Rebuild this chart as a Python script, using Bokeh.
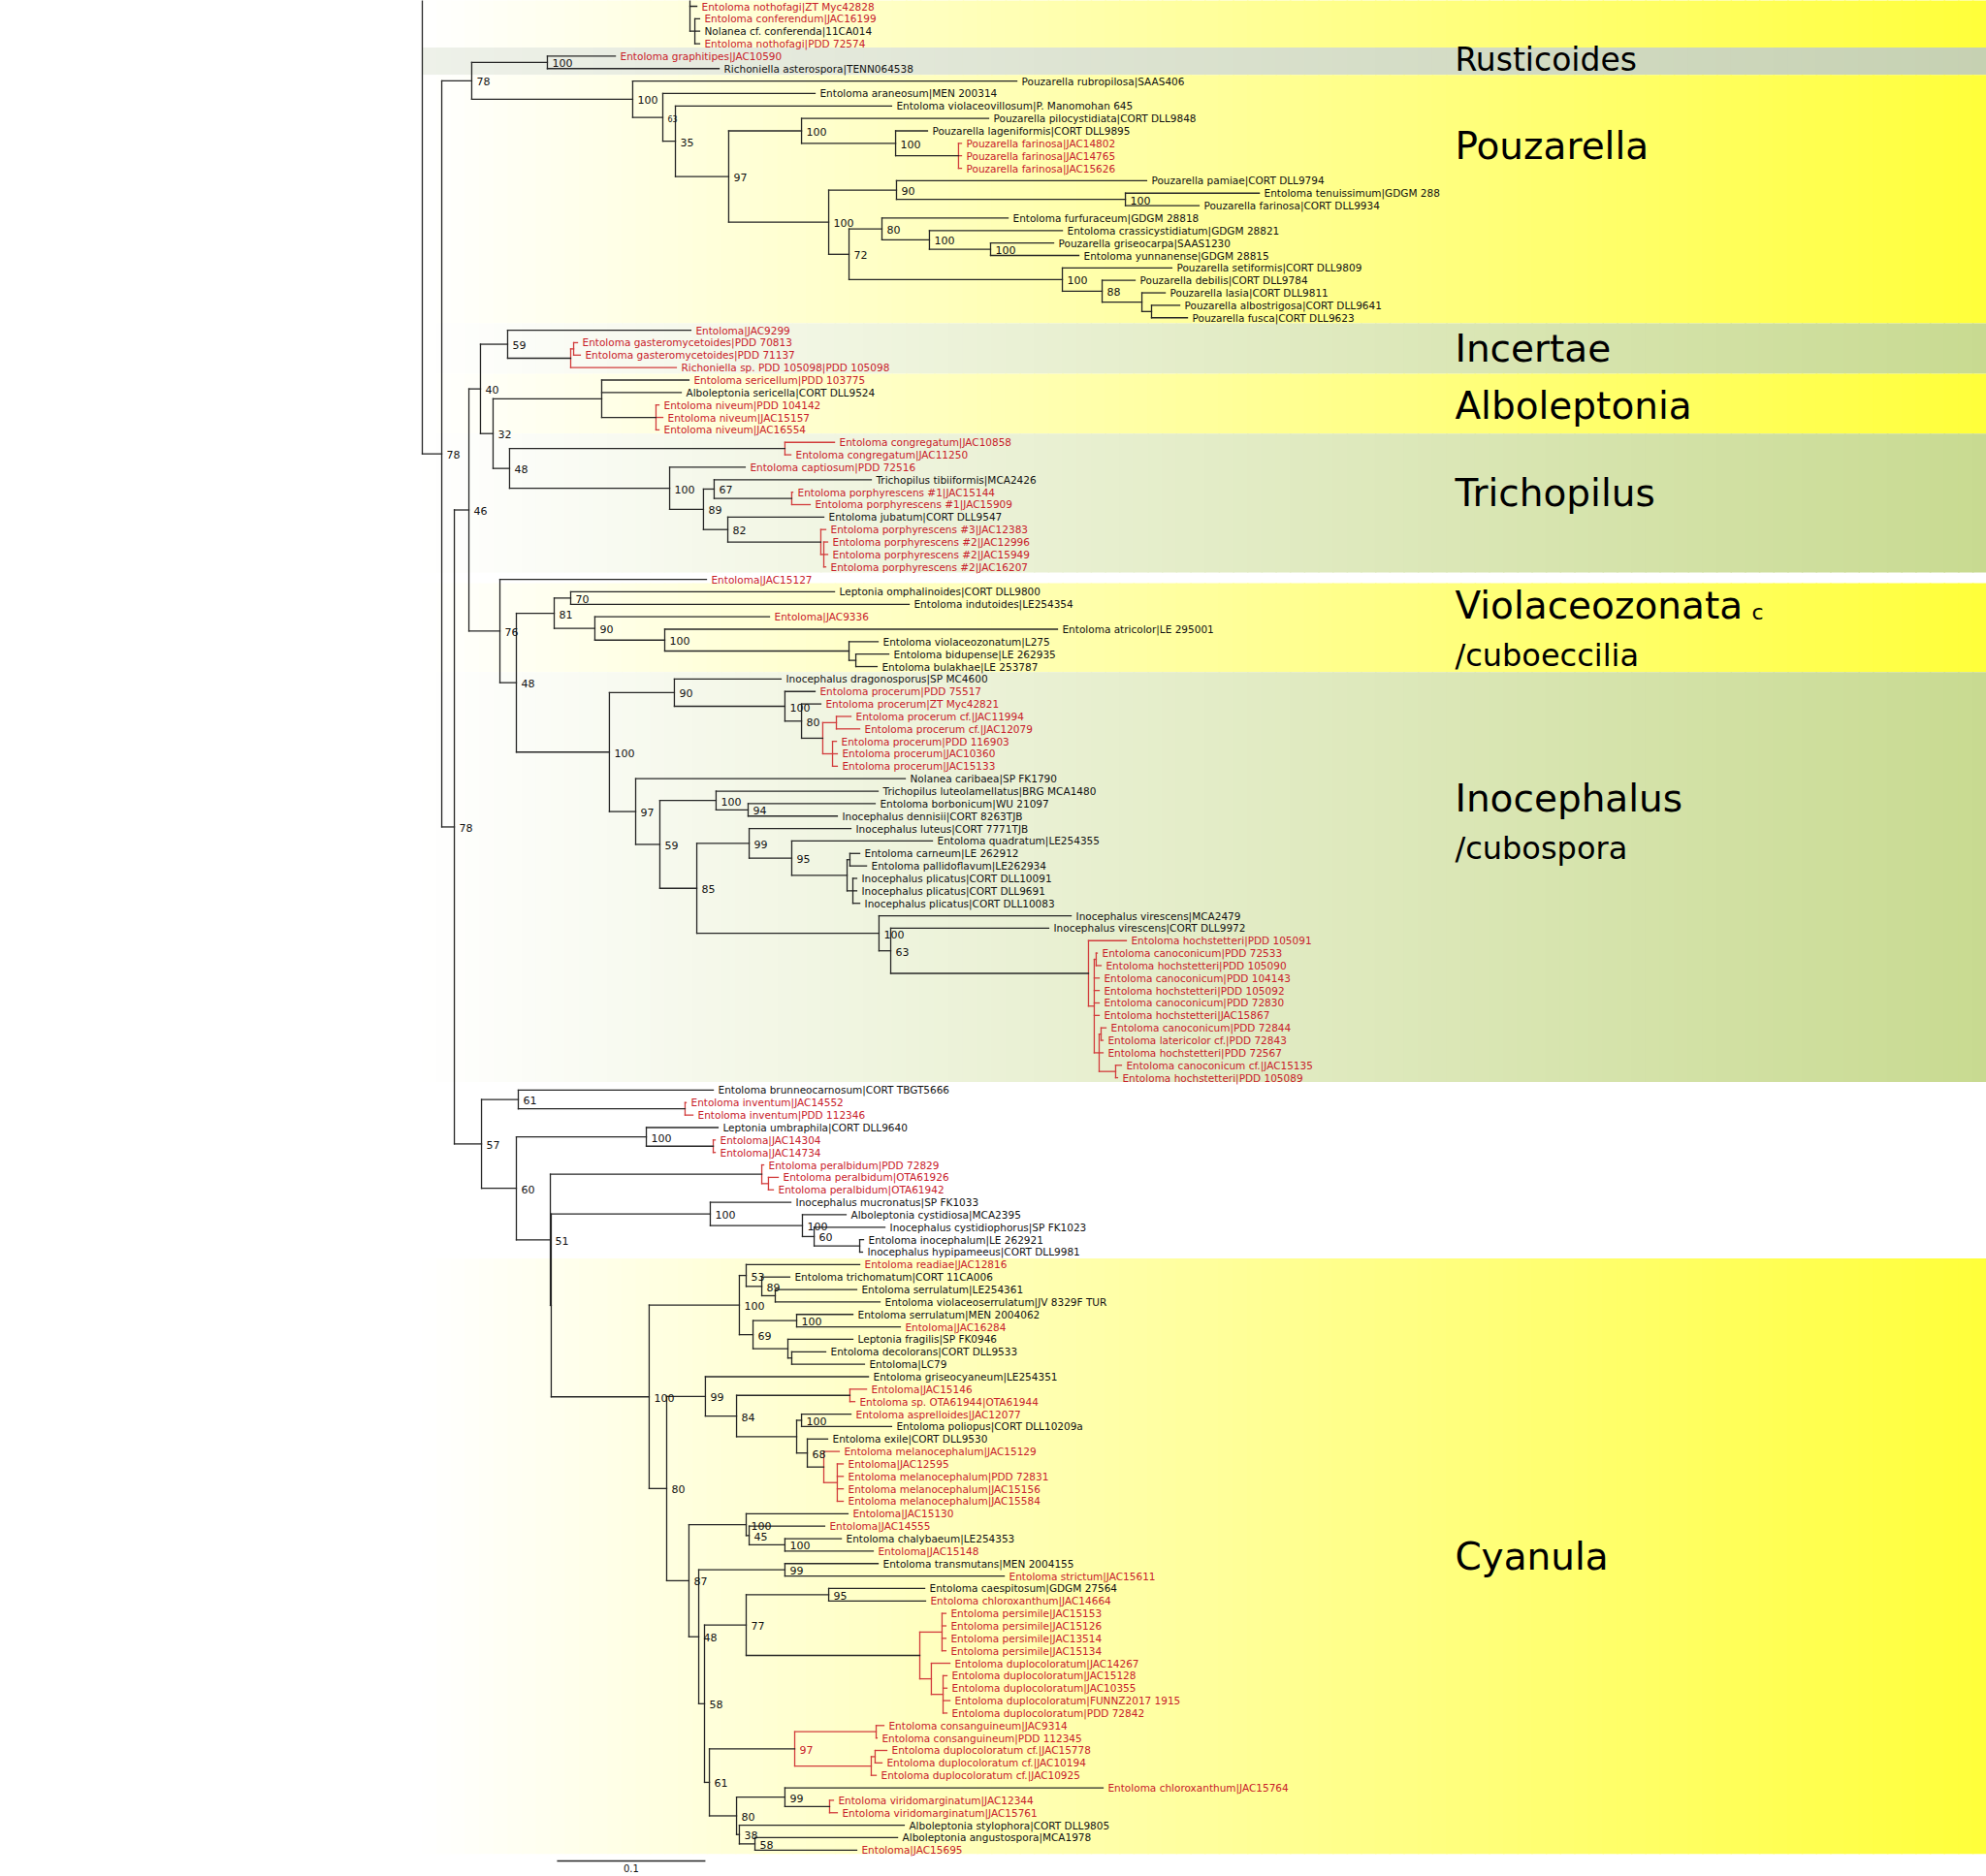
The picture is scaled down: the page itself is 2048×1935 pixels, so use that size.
from bokeh.plotting import figure
from bokeh.models import Range1d, ColumnDataSource
from bokeh.embed import file_html
from bokeh.resources import INLINE
from bokeh.core.properties import value

# ---------------- data ----------------
# tips, top to bottom (y = row index); depth in 0.001 substitutions/site
leaf_names = [
    "Entoloma nothofagi|ZT Myc42828", "Entoloma conferendum|JAC16199", "Nolanea cf. conferenda|11CA014",
    "Entoloma nothofagi|PDD 72574", "Entoloma graphitipes|JAC10590", "Richoniella asterospora|TENN064538",
    "Pouzarella rubropilosa|SAAS406", "Entoloma araneosum|MEN 200314", "Entoloma violaceovillosum|P. Manomohan 645",
    "Pouzarella pilocystidiata|CORT DLL9848",
    "Pouzarella lageniformis|CORT DLL9895", "Pouzarella farinosa|JAC14802", "Pouzarella farinosa|JAC14765",
    "Pouzarella farinosa|JAC15626", "Pouzarella pamiae|CORT DLL9794", "Entoloma tenuissimum|GDGM 288",
    "Pouzarella farinosa|CORT DLL9934", "Entoloma furfuraceum|GDGM 28818", "Entoloma crassicystidiatum|GDGM 28821",
    "Pouzarella griseocarpa|SAAS1230",
    "Entoloma yunnanense|GDGM 28815", "Pouzarella setiformis|CORT DLL9809", "Pouzarella debilis|CORT DLL9784",
    "Pouzarella lasia|CORT DLL9811", "Pouzarella albostrigosa|CORT DLL9641", "Pouzarella fusca|CORT DLL9623",
    "Entoloma|JAC9299", "Entoloma gasteromycetoides|PDD 70813", "Entoloma gasteromycetoides|PDD 71137",
    "Richoniella sp. PDD 105098|PDD 105098",
    "Entoloma sericellum|PDD 103775", "Alboleptonia sericella|CORT DLL9524", "Entoloma niveum|PDD 104142",
    "Entoloma niveum|JAC15157", "Entoloma niveum|JAC16554", "Entoloma congregatum|JAC10858",
    "Entoloma congregatum|JAC11250", "Entoloma captiosum|PDD 72516", "Trichopilus tibiiformis|MCA2426",
    "Entoloma porphyrescens #1|JAC15144",
    "Entoloma porphyrescens #1|JAC15909", "Entoloma jubatum|CORT DLL9547", "Entoloma porphyrescens #3|JAC12383",
    "Entoloma porphyrescens #2|JAC12996", "Entoloma porphyrescens #2|JAC15949", "Entoloma porphyrescens #2|JAC16207",
    "Entoloma|JAC15127", "Leptonia omphalinoides|CORT DLL9800", "Entoloma indutoides|LE254354",
    "Entoloma|JAC9336",
    "Entoloma atricolor|LE 295001", "Entoloma violaceozonatum|L275", "Entoloma bidupense|LE 262935",
    "Entoloma bulakhae|LE 253787", "Inocephalus dragonosporus|SP MC4600", "Entoloma procerum|PDD 75517",
    "Entoloma procerum|ZT Myc42821", "Entoloma procerum cf.|JAC11994", "Entoloma procerum cf.|JAC12079",
    "Entoloma procerum|PDD 116903",
    "Entoloma procerum|JAC10360", "Entoloma procerum|JAC15133", "Nolanea caribaea|SP FK1790",
    "Trichopilus luteolamellatus|BRG MCA1480", "Entoloma borbonicum|WU 21097", "Inocephalus dennisii|CORT 8263TJB",
    "Inocephalus luteus|CORT 7771TJB", "Entoloma quadratum|LE254355", "Entoloma carneum|LE 262912",
    "Entoloma pallidoflavum|LE262934",
    "Inocephalus plicatus|CORT DLL10091", "Inocephalus plicatus|CORT DLL9691", "Inocephalus plicatus|CORT DLL10083",
    "Inocephalus virescens|MCA2479", "Inocephalus virescens|CORT DLL9972", "Entoloma hochstetteri|PDD 105091",
    "Entoloma canoconicum|PDD 72533", "Entoloma hochstetteri|PDD 105090", "Entoloma canoconicum|PDD 104143",
    "Entoloma hochstetteri|PDD 105092",
    "Entoloma canoconicum|PDD 72830", "Entoloma hochstetteri|JAC15867", "Entoloma canoconicum|PDD 72844",
    "Entoloma latericolor cf.|PDD 72843", "Entoloma hochstetteri|PDD 72567", "Entoloma canoconicum cf.|JAC15135",
    "Entoloma hochstetteri|PDD 105089", "Entoloma brunneocarnosum|CORT TBGT5666", "Entoloma inventum|JAC14552",
    "Entoloma inventum|PDD 112346",
    "Leptonia umbraphila|CORT DLL9640", "Entoloma|JAC14304", "Entoloma|JAC14734",
    "Entoloma peralbidum|PDD 72829", "Entoloma peralbidum|OTA61926", "Entoloma peralbidum|OTA61942",
    "Inocephalus mucronatus|SP FK1033", "Alboleptonia cystidiosa|MCA2395", "Inocephalus cystidiophorus|SP FK1023",
    "Entoloma inocephalum|LE 262921",
    "Inocephalus hypipameeus|CORT DLL9981", "Entoloma readiae|JAC12816", "Entoloma trichomatum|CORT 11CA006",
    "Entoloma serrulatum|LE254361", "Entoloma violaceoserrulatum|JV 8329F TUR", "Entoloma serrulatum|MEN 2004062",
    "Entoloma|JAC16284", "Leptonia fragilis|SP FK0946", "Entoloma decolorans|CORT DLL9533",
    "Entoloma|LC79",
    "Entoloma griseocyaneum|LE254351", "Entoloma|JAC15146", "Entoloma sp. OTA61944|OTA61944",
    "Entoloma asprelloides|JAC12077", "Entoloma poliopus|CORT DLL10209a", "Entoloma exile|CORT DLL9530",
    "Entoloma melanocephalum|JAC15129", "Entoloma|JAC12595", "Entoloma melanocephalum|PDD 72831",
    "Entoloma melanocephalum|JAC15156",
    "Entoloma melanocephalum|JAC15584", "Entoloma|JAC15130", "Entoloma|JAC14555",
    "Entoloma chalybaeum|LE254353", "Entoloma|JAC15148", "Entoloma transmutans|MEN 2004155",
    "Entoloma strictum|JAC15611", "Entoloma caespitosum|GDGM 27564", "Entoloma chloroxanthum|JAC14664",
    "Entoloma persimile|JAC15153",
    "Entoloma persimile|JAC15126", "Entoloma persimile|JAC13514", "Entoloma persimile|JAC15134",
    "Entoloma duplocoloratum|JAC14267", "Entoloma duplocoloratum|JAC15128", "Entoloma duplocoloratum|JAC10355",
    "Entoloma duplocoloratum|FUNNZ2017 1915", "Entoloma duplocoloratum|PDD 72842", "Entoloma consanguineum|JAC9314",
    "Entoloma consanguineum|PDD 112345",
    "Entoloma duplocoloratum cf.|JAC15778", "Entoloma duplocoloratum cf.|JAC10194", "Entoloma duplocoloratum cf.|JAC10925",
    "Entoloma chloroxanthum|JAC15764", "Entoloma viridomarginatum|JAC12344", "Entoloma viridomarginatum|JAC15761",
    "Alboleptonia stylophora|CORT DLL9805", "Alboleptonia angustospora|MCA1978", "Entoloma|JAC15695",
]

leaf_red = [
    1, 1, 0, 1, 1, 0, 0, 0, 0, 0,
    0, 1, 1, 1, 0, 0, 0, 0, 0, 0,
    0, 0, 0, 0, 0, 0, 1, 1, 1, 1,
    1, 0, 1, 1, 1, 1, 1, 1, 0, 1,
    1, 0, 1, 1, 1, 1, 1, 0, 0, 1,
    0, 0, 0, 0, 0, 1, 1, 1, 1, 1,
    1, 1, 0, 0, 0, 0, 0, 0, 0, 0,
    0, 0, 0, 0, 0, 1, 1, 1, 1, 1,
    1, 1, 1, 1, 1, 1, 1, 0, 1, 1,
    0, 1, 1, 1, 1, 1, 0, 0, 0, 0,
    0, 1, 0, 0, 0, 0, 1, 0, 0, 0,
    0, 1, 1, 1, 0, 0, 1, 1, 1, 1,
    1, 1, 1, 0, 1, 0, 1, 0, 1, 1,
    1, 1, 1, 1, 1, 1, 1, 1, 1, 1,
    1, 1, 1, 1, 1, 1, 0, 0, 1,
]

leaf_depth = [
    185.0, 186.9, 186.9, 186.9, 130.1, 200.0, 400.7, 264.7, 316.3, 381.7,
    340.5, 363.4, 363.4, 363.4, 488.2, 564.1, 523.5, 394.8, 431.4, 425.5,
    442.5, 505.2, 480.4, 500.7, 510.5, 515.7, 181.0, 104.6, 106.5, 171.2,
    179.7, 174.5, 159.5, 162.1, 159.5, 277.8, 248.4, 217.6, 302.6, 249.7,
    261.4, 270.6, 271.9, 273.2, 273.2, 271.9, 191.5, 277.8, 328.1, 234.0,
    428.1, 307.2, 314.4, 306.5, 241.8, 264.7, 268.6, 288.9, 294.8, 279.1,
    279.7, 279.7, 325.5, 307.2, 305.2, 279.7, 288.9, 343.8, 294.8, 299.4,
    292.8, 292.8, 294.8, 437.3, 422.2, 474.5, 454.9, 457.5, 456.2, 456.2,
    456.2, 456.2, 460.8, 458.8, 458.8, 471.2, 468.6, 196.1, 177.8, 182.4,
    199.3, 197.4, 197.4, 230.1, 239.9, 236.6, 248.4, 285.6, 311.8, 297.4,
    296.7, 294.8, 247.7, 292.8, 308.5, 290.2, 322.2, 290.2, 271.9, 298.0,
    300.7, 299.4, 291.5, 288.9, 316.3, 273.2, 281.0, 283.7, 283.7, 283.7,
    283.7, 286.9, 271.2, 282.4, 303.9, 307.2, 392.2, 338.6, 339.2, 352.9,
    352.9, 352.9, 352.9, 355.6, 353.6, 353.6, 355.6, 353.6, 311.1, 306.5,
    313.1, 309.8, 305.9, 458.8, 277.1, 279.7, 324.8, 320.3, 292.8,
]

leaf_parent = [
    "T1", "T2", "T2", "T2", "RUS", "RUS", "PZ", "P63", "P35", "P100a",
    "P100c", "F", "F", "F", "P90", "P100d", "P100d", "P80", "P100f", "P100g",
    "P100g", "P100e", "P88", "PQ", "PR", "PR", "N59", "GP", "GP", "G",
    "AL", "AL", "NV", "NV", "NV", "CG", "CG", "T100", "T67", "P1",
    "P1", "T82", "PP", "PP2", "PP2", "PP2", "N76", "N70", "N70", "N90",
    "N100v", "VZ", "VZ2", "VZ2", "N90i", "PR100", "PR80", "PCF", "PCF", "PTR",
    "PTR", "PTR", "N97", "N100t", "N94", "N94", "N99", "N95", "CPa", "CPa",
    "PL", "PL", "PL", "NV100", "N63", "HC", "HC3", "HC3", "HC2", "HC2",
    "HC2", "HC2", "HC5", "HC5", "HC4", "HC6", "HC6", "N61a", "IV", "IV",
    "N100u", "JJ", "JJ", "PA", "PA2", "PA2", "N100m", "N100cy", "N60c", "EI",
    "EI", "N53", "N89", "N89b", "N89b", "N100s", "N100s", "LD", "LD2", "LD2",
    "N99c", "J146", "J146", "N100pp", "N100pp", "N68", "MC", "MC2", "MC2", "MC2",
    "MC2", "N100j", "N45", "N100k", "N100k", "N99t", "N99t", "N95c", "N95c", "PS",
    "PS", "PS", "PS", "DU", "DU2", "DU2", "DU2", "DU2", "CS", "CS",
    "DC2", "DC2", "DC", "N99v", "VM", "VM", "N38", "N58b", "N58b",
]

# internal nodes
node_names = [
    "R", "T1", "T2", "B", "A", "RUS", "PZ", "P63", "P35", "P97", "P100a", "P100c", "F",
    "P100b", "P90", "P100d", "P72", "P80", "P100f", "P100g", "P100e", "P88", "PQ", "PR",
    "C", "D", "N40", "N59", "G", "GP", "N32", "AL", "NV", "N48", "CG", "T100", "T89", "T67", "P1", "T82", "PP", "PP2",
    "N76", "N48b", "N81", "N70", "N90", "N100v", "VZ", "VZ2", "N100i", "N90i", "PR100", "PR80", "PRc", "PCF", "PTR",
    "N97", "N59i", "N100t", "N94", "N85", "N99", "N95", "CP", "CPa", "PL", "NV100", "N63",
    "HC", "HC2", "HC3", "HC4", "HC5", "HC6",
    "N57", "N61a", "IV", "N60", "N100u", "JJ", "N51", "PA", "PA2", "X", "N100m", "N100cy", "N60c", "EI",
    "N100c", "N100r", "N53", "N89", "N89b", "N69", "N100s", "LD", "LD2",
    "N80c", "N99c", "N84", "J146", "N100p0", "N100pp", "N68", "MC", "MC2",
    "N87", "N100j", "N45", "N100k", "N48c", "N99t", "N58", "N77", "N95c", "PD", "PS", "DU", "DU2",
    "N61", "N97r", "CS", "DC", "DC2", "N80d", "N99v", "VM", "N38", "N58b",
]
node_parent = [
    None, "R", "T1", "R", "B", "A", "A", "PZ", "P63", "P35", "P97", "P100a", "P100c",
    "P97", "P100b", "P90", "P100b", "P72", "P80", "P100f", "P72", "P100e", "P88", "PQ",
    "B", "C", "D", "N40", "N59", "G", "N40", "N32", "AL", "N32", "N48", "N48", "T100", "T89", "T67", "T89", "T82", "PP",
    "D", "N76", "N48b", "N81", "N81", "N90", "N100v", "VZ", "N48b", "N100i", "N90i", "PR100", "PR80", "PRc", "PRc",
    "N100i", "N97", "N59i", "N100t", "N59i", "N85", "N99", "N95", "CP", "CP", "N85", "NV100",
    "N63", "HC", "HC2", "HC2", "HC4", "HC4",
    "C", "N57", "N61a", "N57", "N60", "N100u", "N60", "N51", "PA", "N51", "X", "N100m", "N100cy", "N60c",
    "X", "N100c", "N100r", "N53", "N89", "N100r", "N69", "N69", "LD",
    "N100c", "N80c", "N99c", "N84", "N84", "N100p0", "N100p0", "N68", "MC",
    "N80c", "N87", "N100j", "N45", "N87", "N48c", "N48c", "N58", "N77", "N77", "PD", "PD", "DU",
    "N58", "N61", "N97r", "N97r", "DC", "N61", "N80d", "N99v", "N80d", "N38",
]
node_depth = [
    0.0, 180.4, 183.7, 13.1, 33.3, 84.3, 141.8, 162.1, 170.6, 206.5, 255.6, 319.0, 361.4,
    273.9, 319.6, 473.9, 287.6, 309.8, 341.8, 383.0, 431.4, 458.2, 485.0, 491.5,
    21.6, 31.4, 39.2, 57.5, 100.0, 102.0, 47.7, 120.9, 157.5, 58.8, 244.4, 166.7, 189.5, 196.7, 249.0, 205.9, 268.6, 270.6,
    52.3, 63.4, 88.9, 100.0, 116.3, 163.4, 287.6, 292.2, 126.1, 169.9, 244.4, 255.6, 269.9, 279.1, 276.5,
    143.8, 160.1, 198.0, 219.6, 185.0, 220.3, 249.0, 286.3, 288.2, 290.2, 307.8, 315.7,
    449.0, 452.9, 454.2, 456.2, 457.5, 467.3,
    39.9, 64.7, 177.1, 63.4, 151.0, 196.1, 86.3, 228.8, 233.3, 86.9, 194.1, 256.2, 264.1, 294.8,
    152.9, 213.7, 218.3, 228.8, 237.9, 222.9, 252.3, 246.4, 249.0,
    164.7, 190.8, 211.8, 288.2, 252.3, 255.6, 259.5, 270.6, 279.7,
    179.7, 218.3, 220.3, 244.4, 186.3, 244.4, 190.2, 218.3, 273.9, 335.3, 350.3, 343.1, 351.0,
    193.5, 251.0, 305.9, 302.6, 305.2, 211.8, 244.4, 274.5, 213.7, 224.2,
]
node_support = [
    "", "", "", "78", "78", "100", "100", "63", "35", "97", "100", "100", "",
    "100", "90", "100", "72", "80", "100", "100", "100", "88", "", "",
    "78", "46", "40", "59", "", "", "32", "", "", "48", "", "100", "89", "67", "", "82", "", "",
    "76", "48", "81", "70", "90", "100", "", "", "100", "90", "100", "80", "", "", "",
    "97", "59", "100", "94", "85", "99", "95", "", "", "", "100", "63",
    "", "", "", "", "", "",
    "57", "61", "", "60", "100", "", "51", "", "", "", "100", "100", "60", "",
    "100", "100", "53", "89", "", "69", "100", "", "",
    "80", "99", "84", "", "", "100", "68", "", "",
    "87", "100", "45", "100", "48", "99", "58", "77", "95", "", "", "", "",
    "61", "97", "", "", "", "80", "99", "", "38", "58",
]
red_clades = ["F", "G", "GP", "NV", "CG", "P1", "PP", "PP2", "PRc", "PCF", "PTR",
              "HC", "HC2", "HC3", "HC4", "HC5", "HC6", "IV", "JJ", "PA", "PA2", "J146",
              "MC", "MC2", "PD", "PS", "DU", "DU2", "N97r", "CS", "DC", "DC2", "VM"]
open_top_nodes = ["R", "T1"]      # continue above the visible part of the tree
small_support_nodes = ["P63"]

# clade bands (row-index extents) and names
band_top = [-3.0, 3.3, 5.5, 25.45, 29.5, 34.3, 46.3, 53.45, 100.5]
band_bottom = [3.3, 5.5, 25.45, 29.5, 34.3, 45.45, 53.45, 86.35, 148.3]
band_kind = ["yellow", "grey", "yellow", "green", "yellow", "green", "yellow", "green", "yellow"]
clade_names = ["Rusticoides", "Pouzarella", "Incertae", "Alboleptonia", "Trichopilus",
               "Violaceozonata", "/cuboeccilia", "Inocephalus", "/cubospora", "Cyanula"]
clade_y = [4.28, 11.2, 27.5, 32.1, 39.1, 48.1, 52.1, 63.6, 67.6, 124.4]
clade_size = [33, 39, 39, 39, 39, 39, 32, 39, 32, 39]
clade_x = 696.0
scale_start, scale_length, scale_y, scale_label = 90.8, 100.0, 148.87, "0.1"

# ---------------- styles ----------------
BLACK_LINE = "#262626"
RED_LINE = "#d23c3c"
RED_TEXT = "#c8202a"
BLACK_TEXT = "#111111"
FONT = "DejaVu Sans"
band_colors = {
    "yellow": ((255, 255, 255), (255, 255, 58)),
    "green": ((255, 255, 255), (200, 218, 144)),
    "grey": ((238, 241, 233), (198, 209, 178)),
}
OPEN_TOP_Y = -3.0

# ---------------- layout computations ----------------
children = {n: [] for n in node_names}
for i, par in enumerate(leaf_parent):
    children[par].append(("L", i))
for n, par in zip(node_names, node_parent):
    if par is not None:
        children[par].append(("N", n))
depth_of = dict(zip(node_names, node_depth))
red_set = set(red_clades)
node_y = {}


def y_of(kind, key):
    if kind == "L":
        return float(key)
    if key in node_y:
        return node_y[key]
    ys = [y_of(*c) for c in children[key]]
    y = OPEN_TOP_Y if key in open_top_nodes else (min(ys) + max(ys)) / 2.0
    node_y[key] = y
    return y


for n in node_names:
    y_of("N", n)

seg = dict(x0=[], y0=[], x1=[], y1=[], c=[])


def add_seg(x0, y0, x1, y1, c):
    seg["x0"].append(x0); seg["y0"].append(y0); seg["x1"].append(x1); seg["y1"].append(y1); seg["c"].append(c)


for i, par in enumerate(leaf_parent):
    add_seg(depth_of[par], float(i), leaf_depth[i], float(i), RED_LINE if par in red_set else BLACK_LINE)
for n, par in zip(node_names, node_parent):
    ys = [y_of(*c) for c in children[n]]
    lo, hi = min(ys), max(ys)
    if n in open_top_nodes:
        lo = OPEN_TOP_Y
    add_seg(depth_of[n], lo, depth_of[n], hi, RED_LINE if n in red_set else BLACK_LINE)
    if par is not None:
        add_seg(depth_of[par], node_y[n], depth_of[n], node_y[n], RED_LINE if par in red_set else BLACK_LINE)

# ---------------- figure ----------------
W, H = 2048, 1935
p = figure(width=W, height=H, x_range=Range1d(-284.31, 1054.25), y_range=Range1d(150.117, -0.467),
           x_axis_type=None, y_axis_type=None, output_backend="svg", toolbar_location=None,
           min_border=0, min_border_left=0, min_border_right=0, min_border_top=0, min_border_bottom=0,
           background_fill_color="white", border_fill_color="white")
p.outline_line_color = None

# gradient bands
NSTRIP = 110
gx0, gx1 = 0.0, 1054.25
q = dict(l=[], r=[], t=[], b=[], c=[])
for top, bot, kind in zip(band_top, band_bottom, band_kind):
    c0, c1 = band_colors[kind]
    for k in range(NSTRIP):
        t = (k + 0.5) / NSTRIP
        col = tuple(int(round(a + (b - a) * t)) for a, b in zip(c0, c1))
        q["l"].append(gx0 + (gx1 - gx0) * k / NSTRIP)
        q["r"].append(gx0 + (gx1 - gx0) * (k + 1) / NSTRIP + 1.0)
        q["t"].append(top)
        q["b"].append(bot)
        q["c"].append("#%02x%02x%02x" % col)
p.quad(left="l", right="r", top="t", bottom="b", fill_color="c", line_color=None,
       source=ColumnDataSource(q))

# branches
p.segment(x0="x0", y0="y0", x1="x1", y1="y1", line_color="c", line_width=1.3,
          line_cap="square", source=ColumnDataSource(seg))

# tip labels
p.text(x=leaf_depth, y=list(range(len(leaf_names))), text=leaf_names,
       text_color=[RED_TEXT if r else BLACK_TEXT for r in leaf_red],
       x_offset=5, text_baseline="middle", text_align="left",
       text_font=value(FONT), text_font_size=value("10.5px"))

# support values
sx, sy, st, sc, ss = [], [], [], [], []
for n, s in zip(node_names, node_support):
    if s:
        sx.append(depth_of[n]); sy.append(node_y[n]); st.append(s)
        sc.append(RED_TEXT if n in red_set else BLACK_TEXT)
        ss.append("8px" if n in small_support_nodes else "11px")
p.text(x="x", y="y", text="t", text_color="c", text_font_size="s",
       source=ColumnDataSource(dict(x=sx, y=sy, t=st, c=sc, s=ss)),
       x_offset=5, y_offset=1, text_baseline="middle", text_align="left", text_font=value(FONT))

# clade names
p.text(x=[clade_x] * len(clade_names), y=clade_y, text=clade_names,
       text_font_size=["%dpx" % s for s in clade_size], text_color="#000000",
       text_baseline="middle", text_align="left", text_font=value(FONT))
p.text(x=[896.0], y=[48.6], text=["c"], text_font_size=value("22px"), text_color="#000000",
       text_baseline="middle", text_align="left", text_font=value(FONT))

# scale bar
p.segment(x0=[scale_start], y0=[scale_y], x1=[scale_start + scale_length], y1=[scale_y],
          line_color=BLACK_LINE, line_width=1.3)
p.text(x=[scale_start + scale_length / 2], y=[149.45], text=[scale_label],
       text_font_size=value("10px"), text_baseline="middle", text_align="center",
       text_font=value(FONT), text_color=BLACK_TEXT)

open("out.html", "w").write(file_html(p, INLINE, title="Entoloma phylogeny"))
